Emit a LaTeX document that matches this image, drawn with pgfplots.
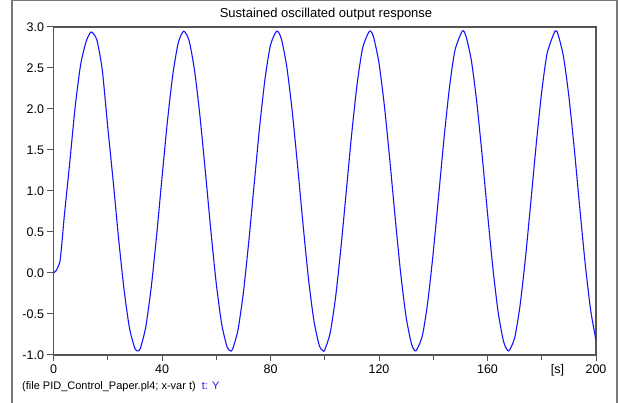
\documentclass[border=0pt]{standalone}
\usepackage{pgfplots}
\pgfplotsset{compat=1.18}
\usepackage{fontspec}
\setmainfont{Liberation Sans}

\definecolor{axisgray}{RGB}{85,85,85}
\definecolor{framegray}{RGB}{120,120,120}
\definecolor{curveblue}{RGB}{20,20,255}

\begin{document}
\begin{tikzpicture}
  % page = 620 x 403
  \path[use as bounding box] (0pt,0pt) rectangle (620pt,403pt);
  \draw[framegray, line width=1.2pt] (12pt,-5pt) -- (12pt,402.4pt) -- (617pt,402.4pt) -- (617pt,-5pt);

  \begin{axis}[
    at={(53.5pt,48pt)}, anchor=south west,
    scale only axis, width=542.5pt, height=328pt,
    xmin=0, xmax=200, ymin=-1, ymax=3,
    xtick={0,40,...,200}, minor xtick={20,60,...,180},
    ytick={-1,-0.5,...,3},
    tick pos=left, tick align=outside,
    major tick length=6pt, minor tick length=5pt,
    every tick/.style={axisgray, line width=1pt},
    axis line style={axisgray, line width=1.3pt},
    yticklabel style={/pgf/number format/fixed, /pgf/number format/fixed zerofill,
                      /pgf/number format/precision=1},
    xticklabel style={/pgf/number format/fixed},
    /pgf/number format/assume math mode=true,
    tick label style={font=\fontsize{12.5}{14}\selectfont},
    clip=true,
  ]
    \addplot[curveblue, line width=1.1pt, smooth, tension=0.4] coordinates {
      (0,0.00) (1,0.03) (2,0.10) (2.4,0.14) (3,0.33) (4,0.70) (6,1.35) (8,2.03)
      (10,2.54) (12,2.82) (13.9,2.94) (16,2.84) (18,2.47) (20,1.78) (22,1.12)
      (24,0.42) (26,-0.20) (28,-0.67) (30,-0.92) (31,-0.95) (32,-0.92)
      (34,-0.661) (36,-0.183) (38,0.453) (40,1.162) (42,1.849) (44,2.423)
      (46,2.807) (48,2.950) (50,2.832) (52,2.470) (54,1.911) (56,1.232)
      (58,0.520) (60,-0.127) (62,-0.623) (64,-0.903) (65.2,-0.95) (66,-0.929)
      (68,-0.697) (70,-0.239) (72,0.385) (74,1.090) (76,1.784) (78,2.373)
      (80,2.779) (82.3,2.95) (84,2.855) (86,2.516) (88,1.974) (90,1.302)
      (92,0.590) (94,-0.068) (96,-0.583) (98,-0.886) (99.4,-0.95) (100,-0.938)
      (102,-0.731) (104,-0.294) (106,0.318) (108,1.019) (110,1.718) (112,2.322)
      (114,2.748) (116.5,2.95) (118,2.876) (120,2.560) (122,2.035) (124,1.373)
      (126,0.660) (128,-0.007) (130,-0.539) (132,-0.867) (133.6,-0.95)
      (136,-0.763) (138,-0.346) (140,0.251) (142,0.948) (144,1.651) (146,2.268)
      (148,2.716) (150.7,2.95) (152,2.894) (154,2.602) (156,2.095) (158,1.443)
      (160,0.731) (162,0.055) (164,-0.494) (166,-0.845) (167.8,-0.95)
      (170,-0.792) (172,-0.397) (174,0.186) (176,0.876) (178,1.583) (180,2.213)
      (182,2.681) (184.9,2.95) (186,2.910) (188,2.641) (190,2.153) (192,1.512)
      (194,0.802) (196,0.118) (198,-0.448) (200,-0.820)
    };
  \end{axis}

  % unit label beside the x tick labels
  \node[font=\fontsize{12.5}{14}\selectfont, anchor=base] at (557.5pt,29pt) {[s]};
  % title
  \node[font=\fontsize{13}{15}\selectfont] at (326pt,389pt) {Sustained oscillated output response};
  % file note
  \node[font=\fontsize{11}{13}\selectfont, anchor=base west, inner sep=0pt] at (22pt,13pt)
    {(file PID\_Control\_Paper.pl4; x-var t)\hspace{6pt}\textcolor{curveblue}{t: Y}};
\end{tikzpicture}
\end{document}
